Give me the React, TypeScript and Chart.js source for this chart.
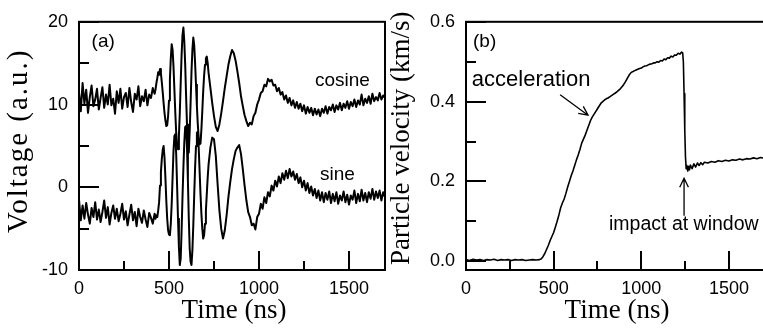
import React, { useEffect, useRef } from "react";
import { Chart, registerables } from "chart.js";

Chart.register(...registerables);

// ---------- Panel (a): VISAR quadrature signals ----------
const waveTime = [
  0, 10, 20, 30, 40, 50, 60, 70, 80, 90,
  100, 110, 120, 130, 140, 150, 160, 170, 180, 190,
  200, 210, 220, 230, 240, 250, 260, 270, 280, 290,
  300, 310, 320, 330, 340, 350, 360, 370, 380, 390,
  400, 410, 420,
  425, 430, 435, 440, 445, 450, 455, 460, 465, 470,
  475, 480, 485, 490, 495, 500, 505, 510, 515, 520,
  525, 530, 535, 540, 545, 550, 555, 560, 565, 570,
  575, 580, 585, 590, 595, 600, 605, 610, 615, 620,
  625, 630, 635, 640, 645, 650, 655, 660, 665, 670,
  675, 680, 685, 690, 695, 700, 705, 710, 715, 720,
  730, 740, 750, 760, 770, 780, 790, 800, 810, 820,
  830, 840, 850, 860, 870, 880, 890, 900, 910, 920,
  930, 940, 950, 960, 970, 980, 990, 1000, 1010, 1020,
  1030, 1040, 1050, 1060, 1070, 1080, 1090, 1100, 1110, 1120,
  1130, 1140, 1150, 1160, 1170, 1180, 1190, 1200, 1210, 1220,
  1230, 1240, 1250, 1260, 1270, 1280, 1290, 1300, 1310, 1320,
  1330, 1340, 1350, 1360, 1370, 1380, 1390, 1400, 1410, 1420,
  1430, 1440, 1450, 1460, 1470, 1480, 1490, 1500, 1510, 1520,
  1530, 1540, 1550, 1560, 1570, 1580, 1590, 1600, 1610, 1620,
  1630, 1640, 1650, 1660, 1670, 1680, 1690, 1700,
];

const cosineVoltage = [
  11.5, 9.2, 12.6, 10.1, 11.8, 9.0, 10.9, 12.3, 9.8, 10.6,
  11.9, 9.4, 10.8, 12.1, 9.6, 11.2, 10.0, 12.4, 9.9, 10.7,
  8.9, 11.6, 10.2, 11.9, 9.5, 10.9, 11.4, 9.7, 12.0, 10.3,
  9.1, 11.3, 10.6, 12.2, 9.8, 11.0, 10.4, 11.8, 9.9, 11.2,
  10.8, 12.0, 11.3,
  11.8, 12.6, 13.2, 13.9, 13.6, 14.3, 13.8, 12.7, 11.5, 10.2,
  9.0, 8.1, 7.4, 7.5, 8.6, 10.5, 13.0, 15.6, 17.3, 16.6,
  14.6, 11.8, 9.0, 6.6, 5.0, 4.6, 6.2, 9.0, 12.6, 16.0,
  18.4, 19.3, 17.6, 14.8, 11.0, 7.6, 4.8, 4.2, 6.8, 10.2,
  14.0, 16.6, 18.1, 17.2, 15.0, 12.4, 9.8, 7.6, 6.0, 5.2,
  5.3, 7.0, 9.2, 11.6, 13.5, 14.8, 15.6, 15.8, 15.0, 13.8,
  12.0, 10.2, 8.6, 7.3, 6.8, 7.6, 8.9, 10.4, 12.0, 13.4,
  14.8, 15.8, 16.6, 16.2, 15.3, 14.0, 12.6, 11.0, 9.8, 8.7,
  8.0, 7.4, 7.8, 7.6, 8.6, 9.0, 10.0, 10.6, 11.4, 11.6,
  12.4, 12.2, 13.1, 12.8, 13.0, 12.3, 12.4, 11.6, 12.0, 11.2,
  11.5, 10.6, 11.1, 10.2, 10.8, 9.9, 10.5, 9.6, 10.3, 9.5,
  10.1, 9.2, 9.9, 8.9, 9.7, 9.0, 9.6, 8.7, 9.5, 8.8,
  9.4, 8.6, 9.5, 9.0, 9.8, 8.9, 9.7, 9.3, 10.0, 9.1,
  9.9, 9.4, 10.2, 9.3, 10.1, 9.6, 10.4, 9.5, 10.3, 9.8,
  10.6, 9.7, 10.5, 10.0, 11.2, 9.9, 10.7, 10.2, 11.0, 10.1,
  11.3, 10.4, 10.9, 10.5, 11.4, 10.6, 11.1, 10.8,
];

const sineVoltage = [
  -1.5, -4.0, -2.2, -3.8, -1.9, -3.3, -4.4, -2.5, -3.6, -1.8,
  -3.9, -2.7, -4.2, -3.0, -1.6, -3.7, -2.4, -4.5, -3.1, -2.2,
  -3.8, -2.6, -4.1, -3.2, -2.0, -3.9, -2.9, -4.6, -3.3, -2.1,
  -4.0, -3.0, -4.7, -2.6, -3.6, -4.3, -2.8, -3.9, -4.8, -3.1,
  -3.7, -4.4, -3.2,
  -3.8, -3.4, -3.6, -2.8, -1.8, 0.2, 1.8, 3.4, 4.5, 5.0,
  3.6, 1.2, -1.6, -3.8, -5.2, -5.7, -5.8, -4.4, -2.0, 1.2,
  4.4, 6.2, 6.4, 4.0, 0.2, -3.8, -7.2, -9.4, -8.6, -5.2,
  -1.2, 2.4, 5.4, 7.3, 7.4, 4.8, 0.8, -3.8, -7.4, -9.0,
  -9.4, -7.6, -4.6, -1.0, 2.4, 5.0, 6.6, 6.7, 4.8, 2.0,
  -0.8, -3.2, -5.0, -6.2, -5.8, -4.4, -2.8, -0.8, 1.2, 2.8,
  4.8, 6.0, 5.8, 3.8, 0.4, -2.8, -5.0, -6.2, -5.2, -3.4,
  -1.2, 0.6, 2.2, 3.4, 4.4, 4.8, 5.1, 4.0, 2.2, 0.2,
  -1.6, -3.0, -3.6, -4.6, -4.4, -5.1, -3.6, -3.2, -2.0, -2.6,
  -1.2, -1.9, -0.6, -1.1, 0.2, -0.4, 0.8, 0.1, 1.3, 0.5,
  1.7, 0.9, 2.0, 1.1, 2.2, 1.3, 1.9, 0.9, 1.6, 0.5,
  1.2, 0.0, 0.8, -0.4, 0.5, -0.7, 0.1, -1.0, -0.2, -1.3,
  -0.4, -1.6, -0.6, -1.8, -0.7, -1.5, -0.5, -1.9, -0.8, -1.7,
  -0.6, -2.0, -1.0, -1.6, -0.5, -1.8, -0.9, -2.1, -1.0, -1.5,
  -0.4, -1.9, -0.8, -1.7, -0.3, -1.6, -0.7, -1.8, -0.6, -1.4,
  -0.2, -1.5, -0.5, -1.3, -0.4, -1.6, -0.6, -1.2,
];

// ---------- Panel (b): particle velocity ----------
const velocityTime = [
  0, 20, 40, 60, 80, 100, 120, 140, 160, 180,
  200, 220, 240, 260, 280, 300, 320, 340, 360, 380, 400,
  420, 430, 440, 450, 460, 470, 480, 490, 500, 510,
  520, 530, 540, 550, 560, 570, 580, 590, 600, 610,
  620, 630, 640, 650, 660, 670, 680, 690, 700, 710,
  720, 730, 740, 750, 760, 770, 780, 790, 800, 810,
  820, 830, 840, 850, 860, 870, 880, 890, 900, 910,
  920, 930, 940, 950, 960, 970, 980, 990, 1000, 1010,
  1020, 1030, 1040, 1050, 1060, 1070, 1080, 1090, 1100, 1110,
  1120, 1130, 1140, 1150, 1160, 1170, 1180, 1190, 1200, 1210,
  1220, 1230,
  1236, 1240, 1244, 1248, 1252, 1256, 1260, 1265, 1270, 1275, 1280,
  1290, 1300, 1310, 1320, 1330, 1340, 1350, 1360,
  1380, 1400, 1420, 1440, 1460, 1480, 1500, 1520, 1540, 1560,
  1580, 1600, 1620, 1640, 1660, 1680, 1700,
];

const particleVelocity = [
  0.004, 0.002, 0.005, 0.003, 0.004, 0.002, 0.004, 0.003, 0.005, 0.002,
  0.004, 0.003, 0.004, 0.002, 0.004, 0.003, 0.004, 0.002, 0.003, 0.004, 0.003,
  0.004, 0.006, 0.012, 0.020, 0.030, 0.040, 0.052, 0.062, 0.072, 0.086,
  0.100, 0.116, 0.134, 0.146, 0.156, 0.170, 0.186, 0.200, 0.214, 0.226,
  0.240, 0.254, 0.266, 0.280, 0.296, 0.306, 0.316, 0.328, 0.340, 0.352,
  0.361, 0.368, 0.375, 0.382, 0.389, 0.396, 0.400, 0.404, 0.407, 0.409,
  0.412, 0.415, 0.418, 0.421, 0.424, 0.428, 0.432, 0.437, 0.443, 0.450,
  0.458, 0.466, 0.472, 0.475, 0.477, 0.479, 0.481, 0.483, 0.484, 0.487,
  0.489, 0.490, 0.492, 0.494, 0.495, 0.497, 0.497, 0.500, 0.499, 0.503,
  0.502, 0.507, 0.505, 0.510, 0.509, 0.514, 0.512, 0.517, 0.516, 0.521,
  0.519, 0.524,
  0.522, 0.500, 0.420, 0.330, 0.262, 0.232, 0.240, 0.226, 0.238, 0.229, 0.241,
  0.232, 0.244, 0.236, 0.246, 0.240, 0.247, 0.242, 0.248,
  0.246, 0.250, 0.248, 0.252, 0.250, 0.253, 0.251, 0.254, 0.253, 0.256,
  0.254, 0.257, 0.256, 0.259, 0.257, 0.260, 0.258,
];

// ---------- Axis ticks ----------
const timeMajorTicks = [0, 500, 1000, 1500];
const timeMinorTicks = [250, 750, 1250];
const voltageMajorTicks = [-10, 0, 10, 20];
const voltageMinorTicks = [-5, 5, 15];
const velocityMajorTicks = [0, 0.2, 0.4, 0.6];
const velocityMinorTicks = [0.1, 0.3, 0.5];

const SANS = '"Liberation Sans", Arial, Helvetica, sans-serif';
const SERIF = '"Liberation Serif", "Times New Roman", Times, serif';

type Note = { text: string; t: number; v: number; size: number };
type Arrow = { from: [number, number]; to: [number, number] };
type PanelOpts = {
  xMajor: number[];
  xMinor: number[];
  yMajor: number[];
  yMinor: number[];
  notes: Note[];
  arrows: Arrow[];
  xTitle: string;
  xTitleBaseline: number;
  yTitle: string;
  yTitleSize: number;
  yTitleX: number;
  yTitleStart: number;
  yTitleSpacing: string;
};

function panelPlugin(id: string, o: PanelOpts) {
  return {
    id,
    afterDraw(chart: any) {
      const ctx: CanvasRenderingContext2D = chart.ctx;
      const a = chart.chartArea;
      const xs = chart.scales.x;
      const ys = chart.scales.y;
      ctx.save();
      ctx.setLineDash([]);
      ctx.globalAlpha = 1;
      ctx.globalCompositeOperation = "source-over";
      ctx.strokeStyle = "#000000";
      ctx.fillStyle = "#000000";

      // inward tick marks on bottom and left axes (solid rectangles)
      const bottom = Math.round(a.bottom);
      const leftEdge = Math.round(a.left);
      const xTick = (v: number, len: number) => {
        const px = Math.round(xs.getPixelForValue(v));
        ctx.fillRect(px - 1, bottom - len, 2, len);
      };
      const yTick = (v: number, len: number) => {
        const py = Math.round(ys.getPixelForValue(v));
        ctx.fillRect(leftEdge, py - 1, len, 2);
      };
      for (const v of o.xMajor) xTick(v, 19);
      for (const v of o.xMinor) xTick(v, 9);
      for (const v of o.yMajor) yTick(v, 20);
      for (const v of o.yMinor) yTick(v, 10);

      // frame
      ctx.lineWidth = 2;
      ctx.strokeRect(a.left, a.top, a.right - a.left, a.bottom - a.top);

      // annotations
      ctx.textAlign = "left";
      ctx.textBaseline = "alphabetic";
      for (const n of o.notes) {
        ctx.font = `${n.size}px ${SANS}`;
        ctx.fillText(n.text, xs.getPixelForValue(n.t), ys.getPixelForValue(n.v));
      }
      ctx.lineWidth = 1.3;
      for (const ar of o.arrows) {
        const x1 = xs.getPixelForValue(ar.from[0]);
        const y1 = ys.getPixelForValue(ar.from[1]);
        const x2 = xs.getPixelForValue(ar.to[0]);
        const y2 = ys.getPixelForValue(ar.to[1]);
        const ang = Math.atan2(y2 - y1, x2 - x1);
        const hl = 10;
        ctx.beginPath();
        ctx.moveTo(x1, y1);
        ctx.lineTo(x2, y2);
        ctx.moveTo(x2 - hl * Math.cos(ang - 0.45), y2 - hl * Math.sin(ang - 0.45));
        ctx.lineTo(x2, y2);
        ctx.lineTo(x2 - hl * Math.cos(ang + 0.45), y2 - hl * Math.sin(ang + 0.45));
        ctx.stroke();
      }

      // axis titles
      ctx.font = `27px ${SERIF}`;
      ctx.textAlign = "center";
      ctx.fillText(o.xTitle, (a.left + a.right) / 2 + 2, o.xTitleBaseline);
      ctx.save();
      ctx.translate(o.yTitleX, o.yTitleStart);
      ctx.rotate(-Math.PI / 2);
      ctx.textAlign = "left";
      ctx.font = `${o.yTitleSize}px ${SERIF}`;
      (ctx as any).letterSpacing = o.yTitleSpacing;
      ctx.fillText(o.yTitle, 0, 0);
      ctx.restore();

      ctx.restore();
    },
  };
}

function makeConfig(
  times: number[],
  series: number[][],
  lineWidth: number,
  yMin: number,
  yMax: number,
  yLabel: (v: number) => string,
  yAxisWidth: number,
  padRight: number,
  plugin: any,
  yMajor: number[]
): any {
  return {
    type: "line",
    data: {
      datasets: series.map((vals) => ({
        data: times.map((t, i) => ({ x: t, y: vals[i] })),
        borderColor: "#000",
        borderWidth: lineWidth,
        borderJoinStyle: "round",
        pointRadius: 0,
        tension: 0,
        fill: false,
      })),
    },
    options: {
      responsive: false,
      animation: false,
      devicePixelRatio: 1,
      events: [],
      layout: { padding: { left: 0, top: 18, right: padRight, bottom: 0 } },
      plugins: { legend: { display: false }, tooltip: { enabled: false } },
      scales: {
        x: {
          type: "linear",
          min: 0,
          max: 1700,
          afterFit: (s: any) => {
            s.height = 58;
          },
          afterBuildTicks: (s: any) => {
            s.ticks = timeMajorTicks.map((v) => ({ value: v }));
          },
          grid: { display: false, drawTicks: false },
          border: { display: false },
          ticks: {
            color: "#000",
            font: { family: SANS, size: 18 },
            padding: 8,
            maxRotation: 0,
            autoSkip: false,
            callback: (v: number) => String(v),
          },
        },
        y: {
          type: "linear",
          min: yMin,
          max: yMax,
          afterFit: (s: any) => {
            s.width = yAxisWidth;
          },
          afterBuildTicks: (s: any) => {
            s.ticks = yMajor.map((v) => ({ value: v }));
          },
          grid: { display: false, drawTicks: false },
          border: { display: false },
          ticks: {
            color: "#000",
            font: { family: SANS, size: 18 },
            padding: 11,
            autoSkip: false,
            callback: (v: number) => yLabel(v),
          },
        },
      },
    },
    plugins: [plugin],
  };
}

export default function App() {
  const leftRef = useRef<HTMLCanvasElement>(null);
  const rightRef = useRef<HTMLCanvasElement>(null);

  useEffect(() => {
    const leftPlugin = panelPlugin("panelA", {
      xMajor: timeMajorTicks,
      xMinor: timeMinorTicks,
      yMajor: voltageMajorTicks,
      yMinor: voltageMinorTicks,
      notes: [
        { text: "(a)", t: 70, v: 16.9, size: 19 },
        { text: "cosine", t: 1311, v: 12.25, size: 19 },
        { text: "sine", t: 1339, v: 0.9, size: 19 },
      ],
      arrows: [],
      xTitle: "Time (ns)",
      xTitleBaseline: 318,
      yTitle: "Voltage (a.u.)",
      yTitleSize: 29,
      yTitleX: 27,
      yTitleStart: 233,
      yTitleSpacing: "2px",
    });
    const rightPlugin = panelPlugin("panelB", {
      xMajor: timeMajorTicks,
      xMinor: timeMinorTicks,
      yMajor: velocityMajorTicks,
      yMinor: velocityMinorTicks,
      notes: [
        { text: "(b)", t: 40, v: 0.538, size: 19 },
        { text: "acceleration", t: 33, v: 0.44, size: 22 },
        { text: "impact at window", t: 816, v: 0.079, size: 19.5 },
      ],
      arrows: [
        { from: [537, 0.417], to: [696, 0.366] },
        { from: [1244, 0.114], to: [1244, 0.208] },
      ],
      xTitle: "Time (ns)",
      xTitleBaseline: 318,
      yTitle: "Particle velocity (km/s)",
      yTitleSize: 27,
      yTitleX: 24,
      yTitleStart: 265,
      yTitleSpacing: "0px",
    });

    const left = new Chart(
      leftRef.current as HTMLCanvasElement,
      makeConfig(
        waveTime,
        [cosineVoltage, sineVoltage],
        2,
        -10,
        20,
        (v) => String(v),
        79,
        15,
        leftPlugin,
        voltageMajorTicks
      )
    );
    const right = new Chart(
      rightRef.current as HTMLCanvasElement,
      makeConfig(
        velocityTime,
        [particleVelocity],
        1.6,
        -0.022,
        0.6,
        (v) => v.toFixed(1),
        81,
        11,
        rightPlugin,
        velocityMajorTicks
      )
    );
    return () => {
      left.destroy();
      right.destroy();
    };
  }, []);

  return (
    <div
      style={{
        position: "fixed",
        left: 0,
        top: 0,
        width: 763,
        height: 328,
        overflow: "hidden",
        background: "#fff",
      }}
    >
      <canvas
        ref={leftRef}
        width={400}
        height={328}
        style={{ position: "absolute", left: 0, top: 0, width: 400, height: 328 }}
      />
      <canvas
        ref={rightRef}
        width={390}
        height={328}
        style={{ position: "absolute", left: 385, top: 0, width: 390, height: 328 }}
      />
    </div>
  );
}
